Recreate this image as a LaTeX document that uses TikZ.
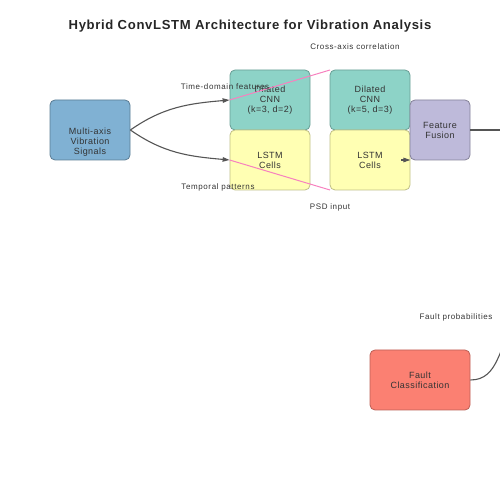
\documentclass[tikz,border=0pt]{standalone}
\usepackage{fontspec}
\setmainfont{Liberation Sans}[LetterSpace=5]
\newfontfamily\tagfont{Liberation Sans}[LetterSpace=7.5]
\usetikzlibrary{arrows.meta}

\definecolor{signalblue}{HTML}{80B1D3}
\definecolor{cnnteal}{HTML}{8DD3C7}
\definecolor{lstmyellow}{HTML}{FFFFB3}
\definecolor{fusionlilac}{HTML}{BEBADA}
\definecolor{faultred}{HTML}{FB8072}
\definecolor{linkpink}{HTML}{F781BF}
\definecolor{inkgray}{HTML}{333333}
\definecolor{wiregray}{HTML}{555555}

\begin{document}
\begin{tikzpicture}[x=1pt, y=1pt,
  box/.style = {rectangle, rounded corners=5pt, minimum width=80pt, minimum height=60pt,
                inner sep=0pt, align=center, text=inkgray, line width=0.8pt,
                font=\fontsize{9}{10}\selectfont},
  signal/.style = {box, fill=signalblue, draw=signalblue!70!black},
  cnn/.style = {box, fill=cnnteal, draw=cnnteal!75!black},
  lstm/.style = {box, fill=lstmyellow, draw=lstmyellow!75!black},
  fusion/.style = {box, minimum width=60pt, fill=fusionlilac, draw=fusionlilac!70!black},
  fault/.style = {box, minimum width=100pt, fill=faultred, draw=faultred!75!black},
  wire/.style = {draw=wiregray, line width=1.1pt},
  arr/.style = {wire, -{Triangle[length=7pt, width=4.5pt]}},
  link/.style = {draw=linkpink, line width=1pt},
  tag/.style = {text=inkgray, font=\tagfont\fontsize{8}{9}\selectfont},
  ]
  \useasboundingbox (0,0) rectangle (500,500);

  \node[font=\fontsize{13.1}{15}\selectfont\bfseries, text=black!85] (title) at (250,474)
    {Hybrid ConvLSTM Architecture for Vibration Analysis};

  % blocks
  \node[signal] (input) at (90,370) {};
  \node[box] (inputtext) at (90,358) {Multi-axis\\Vibration\\Signals};
  \node[cnn] (cnnA) at (270,400) {Dilated\\CNN\\(k=3, d=2)};
  \node[lstm] (lstmA) at (270,340) {LSTM\\Cells};
  \node[cnn] (cnnB) at (370,400) {Dilated\\CNN\\(k=5, d=3)};
  \node[lstm] (lstmB) at (370,340) {LSTM\\Cells};
  \node[fusion] (fusion) at (440,370) {Feature\\Fusion};
  \node[fault] (fault) at (420,120) {Fault\\Classification};

  % loose ends
  \coordinate (psdtip) at (401,340);
  \coordinate (outR) at (505,370);
  \coordinate (probsrc) at (515,178);

  % connectors
  \draw[arr] (input.east) to[out=35, in=185] (cnnA.west);
  \draw[arr] (input.east) to[out=-35, in=175] (lstmA.west);
  \draw[link] (cnnA.west) -- (330,430) coordinate (cnnBtop);
  \draw[link] (lstmA.west) -- (330,310) coordinate (lstmBbot);
  \draw[arr] (psdtip) -- (lstmB.east);
  \draw[wire] (fusion.east) -- (outR);
  \draw[wire] (fault.east) to[out=0, in=235] (probsrc);

  % labels
  \node[tag] (timetag) at (225,413) {Time-domain features};
  \node[tag] (temptag) at (218,313) {Temporal patterns};
  \node[tag] (crosstag) at (355,453) {Cross-axis correlation};
  \node[tag] (psdtag) at (330,293) {PSD input};
  \node[tag] (probtag) at (456,183) {Fault probabilities};
\end{tikzpicture}
\end{document}
